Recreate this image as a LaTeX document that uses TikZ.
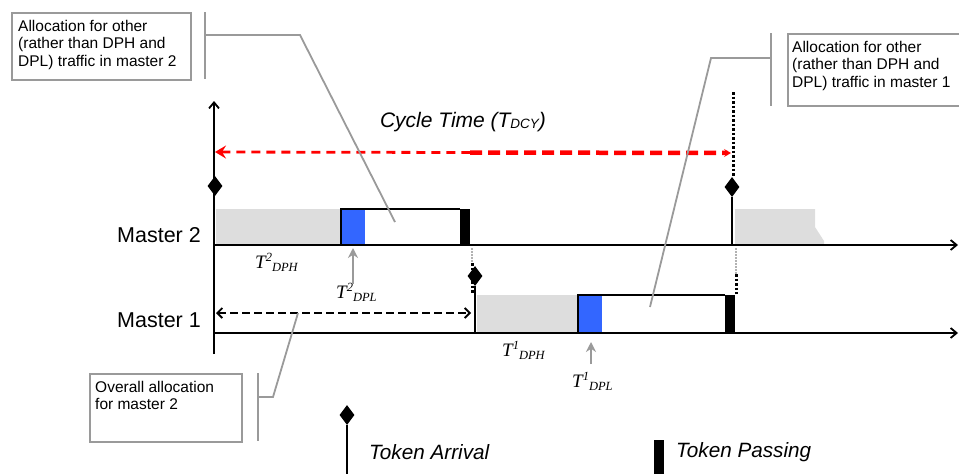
\documentclass[tikz,border=0pt]{standalone}
\usepackage{fontspec}
\setmainfont{Liberation Serif}
\setsansfont{Liberation Sans}
\usetikzlibrary{arrows.meta,shapes.geometric}
\definecolor{slotblue}{HTML}{3366FF}
\definecolor{slotgray}{HTML}{DDDDDD}
\definecolor{leadgray}{HTML}{9A9A9A}
\begin{document}
\begin{tikzpicture}[x=1pt,y=-1pt,
  axis/.style={line width=2.2pt,-{Straight Barb[length=6pt,width=10pt,line width=1.8pt]}},
  tokdiam/.style={shape=diamond,fill=black,inner sep=0pt,minimum width=15pt,minimum height=20pt},
  stem/.style={line width=2.2pt},
  blackbar/.style={fill=black},
  callbox/.style={draw=leadgray,line width=2.2pt,fill=white,inner sep=0pt,anchor=north west},
  calltext/.style={font=\sffamily\fontsize{15.5}{17.5}\selectfont,align=left,anchor=north west,inner sep=0pt},
  leader/.style={draw=leadgray,line width=1.8pt},
  graydot/.style={draw=gray!60,line width=1.2pt,dash pattern=on 1.5pt off 1.5pt},
  blackdot/.style={draw=black,line width=3pt,dash pattern=on 2.5pt off 2pt},
  tlabel/.style={font=\fontsize{19}{19}\selectfont\itshape,inner sep=0pt},
  grayarrow/.style={draw=leadgray,line width=2.4pt,-{Stealth[length=10pt,width=10pt]}},
  mlabel/.style={font=\sffamily\fontsize{21.5}{21.5}\selectfont,inner sep=0pt,anchor=east},
  legtext/.style={font=\sffamily\itshape\fontsize{20.7}{20.7}\selectfont,inner sep=0pt,anchor=west}
]
\useasboundingbox (0,0) rectangle (959,474);

% ---------------- Master 2 row ----------------
\fill[slotgray] (216,209) rectangle (341,245);
\fill[slotblue] (341,209) rectangle (365,245);
\draw[line width=1.8pt] (341,245) -- (341,209) -- (460,209);
\fill[blackbar] (460,209) rectangle (470,245);
\fill[slotgray] (735,209) -- (815,209) -- (815,227) -- (824,241) -- (824,245) -- (735,245) -- cycle;

% ---------------- Master 1 row ----------------
\fill[slotgray] (477,295) rectangle (578,333);
\fill[slotblue] (578,295) rectangle (602,333);
\draw[line width=1.8pt] (578,333) -- (578,295) -- (725,295);
\fill[blackbar] (725,295) rectangle (735,333);

% ---------------- axes ----------------
\coordinate (yb) at (214,354);
\coordinate (yt) at (214,101);
\draw[axis] (yb) -- (yt);
\coordinate (m2s) at (213,245);
\coordinate (m2e) at (958,245);
\draw[axis] (m2s) -- (m2e);
\coordinate (m1s) at (213,333);
\coordinate (m1e) at (958,333);
\draw[axis] (m1s) -- (m1e);

\node[mlabel] (lm2) at (201,235) {Master 2};
\node[mlabel] (lm1) at (201,320) {Master 1};

% ---------------- token arrivals ----------------
\node[tokdiam] (d0) at (215,186) {};
\node[tokdiam] (d1) at (732,187) {};
\coordinate (d1b) at (732,245);
\draw[stem] (d1) -- (d1b);
\node[tokdiam] (d2) at (475,276) {};
\coordinate (d2b) at (475,333);
\draw[stem] (d2) -- (d2b);

% dotted guides
\coordinate (g1a) at (733,92);
\coordinate (g1b) at (733,176);
\draw[blackdot] (g1a) -- (g1b);
\coordinate (g2a) at (472,248);
\coordinate (g2b) at (472,263);
\coordinate (g2c) at (472,294);
\draw[graydot] (g2a) -- (g2b);
\draw[blackdot] (g2b) -- (g2c);
\coordinate (g3a) at (736,248);
\coordinate (g3b) at (736,274);
\coordinate (g3c) at (736,294);
\draw[graydot] (g3a) -- (g3b);
\draw[blackdot] (g3b) -- (g3c);

% ---------------- cycle time ----------------
\node[font=\sffamily\itshape\fontsize{21}{21}\selectfont,inner sep=0pt] (ct) at (463,122)
  {Cycle Time (T\raisebox{-1.5pt}{\fontsize{13.5}{13.5}\selectfont DCY})};
\coordinate (ctl) at (215,152);
\coordinate (ctm) at (470,152.5);
\coordinate (ctr) at (731,153);
\draw[red,line width=2.8pt,dash pattern=on 9pt off 6pt,{Stealth[length=11pt,width=13pt,inset=4pt]}-] (ctl) -- (ctm);
\draw[red,line width=4.5pt,dash pattern=on 12pt off 6pt,-{Stealth[length=7pt,width=8pt,inset=3pt]}] (ctm) -- (ctr);

% overall allocation arrow
\coordinate (oal) at (216,313);
\coordinate (oar) at (471,313);
\draw[line width=2.4pt,dash pattern=on 8pt off 4pt,{Straight Barb[length=5pt,width=10pt,line width=1.8pt]}-{Straight Barb[length=5pt,width=10pt,line width=1.8pt]}] (oal) -- (oar);

% ---------------- T labels ----------------
\node[tlabel,anchor=west] (t2h) at (255,262) {T\raisebox{7pt}{\fontsize{12.5}{12.5}\selectfont 2}\raisebox{-3pt}{\fontsize{12.5}{12.5}\selectfont DPH}};
\node[tlabel,anchor=west] (t2l) at (336,292) {T\raisebox{7pt}{\fontsize{12.5}{12.5}\selectfont 2}\raisebox{-3pt}{\fontsize{12.5}{12.5}\selectfont DPL}};
\coordinate (a2s) at (353,284);
\coordinate (a2e) at (353,248);
\draw[grayarrow] (a2s) -- (a2e);
\node[tlabel,anchor=west] (t1h) at (502,350) {T\raisebox{7pt}{\fontsize{12.5}{12.5}\selectfont 1}\raisebox{-3pt}{\fontsize{12.5}{12.5}\selectfont DPH}};
\node[tlabel,anchor=west] (t1l) at (572,381) {T\raisebox{7pt}{\fontsize{12.5}{12.5}\selectfont 1}\raisebox{-3pt}{\fontsize{12.5}{12.5}\selectfont DPL}};
\coordinate (a1s) at (591,364);
\coordinate (a1e) at (591,342);
\draw[grayarrow] (a1s) -- (a1e);

% ---------------- callouts ----------------
\node[callbox,minimum width=179pt,minimum height=67pt] (c1) at (11,12) {};
\node[calltext] (c1t) at (18,20) {Allocation for other\\(rather than DPH and\\DPL) traffic in master 2};
\coordinate (b1t) at (205,12);
\coordinate (b1b) at (205,79);
\draw[leader] (b1t) -- (b1b);
\coordinate (b1m) at (205,35);
\coordinate (b1k) at (300,35);
\coordinate (b1e) at (395,222);
\draw[leader] (b1m) -- (b1k) -- (b1e);

\node[callbox,minimum width=180pt,minimum height=72pt] (c2) at (787,33) {};
\node[calltext] (c2t) at (792,41) {Allocation for other\\(rather than DPH and\\DPL) traffic in master 1};
\coordinate (b2t) at (771,33);
\coordinate (b2b) at (771,106);
\draw[leader] (b2t) -- (b2b);
\coordinate (b2m) at (771,58);
\coordinate (b2k) at (711,58);
\coordinate (b2e) at (650,307);
\draw[leader] (b2m) -- (b2k) -- (b2e);

\node[callbox,minimum width=152pt,minimum height=68pt] (c3) at (89,373) {};
\node[calltext] (c3t) at (95,381) {Overall allocation\\for master 2};
\coordinate (b3t) at (258,373);
\coordinate (b3b) at (258,441);
\draw[leader] (b3t) -- (b3b);
\coordinate (b3m) at (258,397);
\coordinate (b3k) at (273,397);
\coordinate (b3e) at (298,313);
\draw[leader] (b3m) -- (b3k) -- (b3e);

% ---------------- legend ----------------
\node[tokdiam] (ld) at (347,415) {};
\coordinate (ldb) at (347,474);
\draw[stem] (ld) -- (ldb);
\node[legtext] (lta) at (369,452) {Token Arrival};
\node[blackbar,minimum width=10pt,minimum height=34pt,inner sep=0pt] (lbar) at (659,457) {};
\node[legtext] (ltp) at (676,452) {Token Passing};
\end{tikzpicture}
\end{document}
